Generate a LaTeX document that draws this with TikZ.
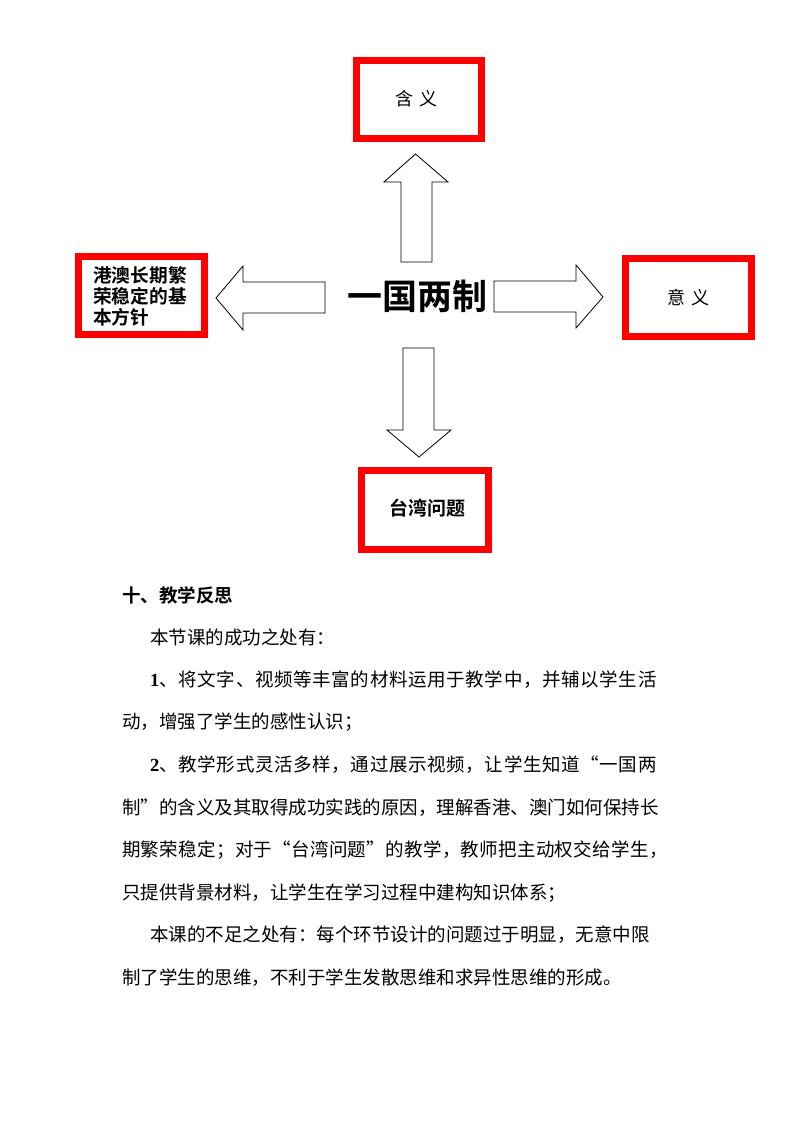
\documentclass[tikz,border=0pt]{standalone}
\usepackage{fontspec}
\setmainfont{Noto Sans CJK SC}[BoldFont={Noto Sans CJK SC Bold}]
\newfontfamily\latserif{Liberation Serif}
\tikzset{
  redbox/.style={draw=red, line width=7pt, rectangle, inner sep=0pt},
  blockarrow/.style={draw=black, line width=0.8pt, fill=white, line join=miter},
  bodyline/.style={anchor=west, inner sep=0pt, font=\fontsize{18.5}{20}\selectfont},
}
\begin{document}
\begin{tikzpicture}[x=1pt,y=-1pt]
\useasboundingbox (0,0) rectangle (794,1134);
% boxes
\node[redbox, minimum width=125pt, minimum height=78pt] (han) at (419,99.5) {};
\node[font=\fontsize{18}{20}\selectfont] (hant) at (416,99) {含\hspace{6pt}义};
\node[redbox, minimum width=126pt, minimum height=78pt] (left) at (141.5,295.5) {};
\node[font=\fontsize{18.7}{21}\selectfont\bfseries, align=left, inner sep=0pt] (leftt) at (140,296.5) {港澳长期繁\\荣稳定的基\\本方针};
\node[redbox, minimum width=126pt, minimum height=78pt] (right) at (688.5,297.5) {};
\node[font=\fontsize{18}{20}\selectfont] (rightt) at (688,298) {意\hspace{6pt}义};
\node[redbox, minimum width=127pt, minimum height=79pt] (bottom) at (425,510) {};
\node[font=\fontsize{19}{21}\selectfont\bfseries] (bottomt) at (427,508) {台湾问题};
% centre
\node[font=\fontsize{35}{38}\selectfont\bfseries, inner sep=0pt] (center) at (417,296) {一国两制};
% block arrows
\draw[blockarrow] (401,262) -- (401,182) -- (384,182) -- (415.5,154) -- (448,182) -- (432,182) -- (432,262) -- cycle;
\draw[blockarrow] (325,282) -- (243,282) -- (243,266) -- (216,298) -- (243,330) -- (243,313) -- (325,313) -- cycle;
\draw[blockarrow] (494,281) -- (576,281) -- (576,265) -- (603,297) -- (576,328) -- (576,312) -- (494,312) -- cycle;
\draw[blockarrow] (403,348) -- (434,348) -- (434,430) -- (451,430) -- (419,457) -- (387,430) -- (403,430) -- cycle;
% text
\node[bodyline, font=\fontsize{18.5}{20}\selectfont\bfseries] (l1) at (122,595) {十、教学反思};
\node[bodyline] (l2) at (150,637) {本节课的成功之处有：};
\node[bodyline, font=\fontsize{18.5}{20}\selectfont\addfontfeatures{LetterSpace=3.5}] (l3) at (150,680) {{\latserif\bfseries 1}、将文字、视频等丰富的材料运用于教学中，并辅以学生活};
\node[bodyline] (l4) at (122,722) {动，增强了学生的感性认识；};
\node[bodyline, font=\fontsize{18.5}{20}\selectfont\addfontfeatures{LetterSpace=3.5}] (l5) at (150,765) {{\latserif\bfseries 2}、教学形式灵活多样，通过展示视频，让学生知道“一国两};
\node[bodyline] (l6) at (122,808) {制”的含义及其取得成功实践的原因，理解香港、澳门如何保持长};
\node[bodyline, font=\fontsize{18.5}{20}\selectfont\addfontfeatures{LetterSpace=1.7}] (l7) at (122,850) {期繁荣稳定；对于“台湾问题”的教学，教师把主动权交给学生，};
\node[bodyline] (l8) at (122,893) {只提供背景材料，让学生在学习过程中建构知识体系；};
\node[bodyline] (l9) at (150,935) {本课的不足之处有：每个环节设计的问题过于明显，无意中限};
\node[bodyline] (l10) at (122,978) {制了学生的思维，不利于学生发散思维和求异性思维的形成。};
\end{tikzpicture}
\end{document}
